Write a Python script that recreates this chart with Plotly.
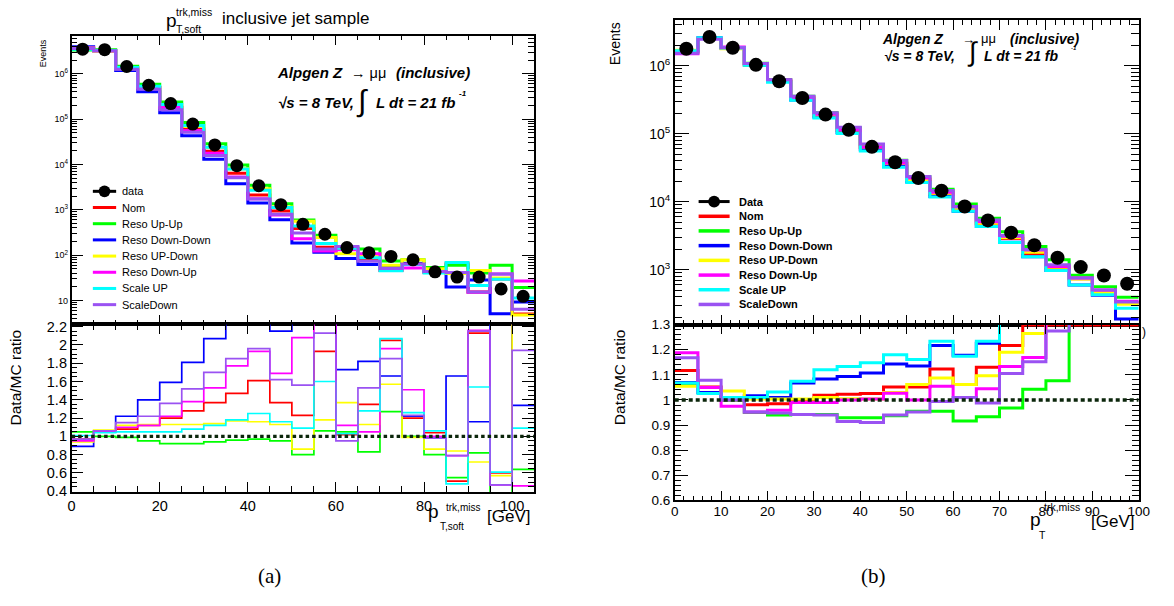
import plotly.graph_objects as go

W, H = 1174, 606

# ---------------- data: left panel (a) ----------------
L_EDGES = [0, 5, 10, 15, 20, 25, 30, 35, 40, 45, 50, 55, 60, 65, 70, 75, 80, 85, 90, 95, 100, 105]
L_CENTERS = [2.5, 7.5, 12.5, 17.5, 22.5, 27.5, 32.5, 37.5, 42.5, 47.5, 52.5, 57.5, 62.5, 67.5,
             72.5, 77.5, 82.5, 87.5, 92.5, 97.5, 102.5]
L_DATA = [3.5e6, 3.4e6, 1.45e6, 5.6e5, 2.2e5, 7.8e4, 2.7e4, 9.4e3, 3.4e3, 1.3e3, 480, 290, 147,
          113, 94, 79, 43, 33, 33, 18, 12.4]

L_R_NOM = [0.97, 1.05, 1.08, 1.12, 1.20, 1.28, 1.37, 1.47, 1.61, 1.37, 1.23, 1.93, 1.02, 1.35, 2.05,
           1.20, 1.04, 0.51, 2.13, 0.60, 2.45]
L_R_UPUP = [1.05, 1.00, 0.99, 0.95, 0.92, 0.92, 0.94, 0.96, 0.97, 0.95, 0.80, 1.06, 1.05, 0.83, 1.27,
            1.00, 0.80, 0.55, 0.82, 0.30, 0.64]
L_R_DNDN = [0.89, 1.06, 1.22, 1.40, 1.59, 1.81, 2.07, 2.50, 2.40, 2.15, 2.60, 2.50, 1.73, 1.82, 1.66,
            1.22, 0.98, 1.66, 1.16, 3.50, 1.34]
L_R_UPDN = [0.94, 1.07, 1.12, 1.13, 1.13, 1.13, 1.14, 1.17, 1.16, 1.13, 0.86, 1.18, 1.37, 1.13, 1.57,
            0.99, 0.86, 0.84, 0.72, 0.57, 2.60]
L_R_DNUP = [0.95, 1.05, 1.10, 1.12, 1.22, 1.38, 1.53, 1.77, 1.93, 1.69, 2.08, 2.35, 1.12, 1.05, 1.96,
            1.51, 1.00, 0.79, 2.16, 0.47, 0.46]
L_R_SCUP = [1.01, 1.04, 1.05, 1.05, 1.05, 1.08, 1.12, 1.18, 1.25, 1.16, 1.09, 1.60, 1.03, 1.28, 2.07,
            1.26, 1.06, 0.48, 1.54, 0.61, 1.09]
L_R_SCDN = [0.97, 1.06, 1.15, 1.22, 1.36, 1.52, 1.70, 1.85, 1.96, 1.62, 1.56, 2.13, 0.95, 1.53, 1.85,
            1.23, 0.98, 0.79, 2.15, 0.47, 1.94]

# ---------------- data: right panel (b) ----------------
R_EDGES = [0, 5, 10, 15, 20, 25, 30, 35, 40, 45, 50, 55, 60, 65, 70, 75, 80, 85, 90, 95, 100]
R_CENTERS = [2.5, 7.5, 12.5, 17.5, 22.5, 27.5, 32.5, 37.5, 42.5, 47.5, 52.5, 57.5, 62.5, 67.5,
             72.5, 77.5, 82.5, 87.5, 92.5, 97.5]
R_DATA = [1.78e6, 2.65e6, 1.84e6, 1.03e6, 5.9e5, 3.35e5, 1.91e5, 1.14e5, 6.4e4, 3.8e4, 2.23e4,
          1.45e4, 8.5e3, 5.3e3, 3.5e3, 2.28e3, 1.5e3, 1.09e3, 820, 620]

R_R_NOM = [1.117, 1.052, 1.0, 0.981, 0.985, 1.0, 1.019, 1.023, 1.026, 1.052, 1.052, 1.123, 1.062,
           1.13, 1.217, 1.32, 1.40, 1.48, 1.80, 1.90]
R_R_UPUP = [1.06, 1.05, 1.0, 0.95, 0.94, 0.942, 0.942, 0.929, 0.929, 0.937, 0.955, 0.955, 0.916,
            0.933, 0.968, 1.043, 1.077, 1.32, 1.46, 1.58]
R_R_DNDN = [1.07, 1.03, 1.01, 1.017, 1.01, 1.068, 1.084, 1.094, 1.107, 1.143, 1.135, 1.217, 1.178,
            1.226, 1.38, 1.47, 1.54, 1.83, 1.95, 3.3]
R_R_UPDN = [1.055, 1.05, 1.036, 1.004, 1.004, 1.004, 1.01, 1.005, 1.004, 1.03, 1.062, 1.088, 1.062,
            1.097, 1.19, 1.265, 1.38, 1.5, 1.80, 2.0]
R_R_DNUP = [1.188, 1.05, 0.975, 0.952, 0.959, 0.99, 0.99, 1.0, 1.004, 1.027, 1.0, 1.055, 1.01, 1.045,
            1.133, 1.169, 1.35, 1.45, 1.64, 1.81]
R_R_SCUP = [1.068, 1.026, 1.01, 1.01, 1.032, 1.075, 1.12, 1.133, 1.148, 1.18, 1.161, 1.234, 1.174,
            1.234, 1.40, 1.47, 1.54, 1.83, 1.92, 2.3]
R_R_SCDN = [1.168, 1.079, 1.0, 0.952, 0.948, 0.942, 0.94, 0.914, 0.91, 0.94, 0.952, 0.994, 1.01,
            0.988, 1.105, 1.152, 1.275, 1.45, 1.64, 1.85]

SERIES = ["Nom", "Reso Up-Up", "Reso Down-Down", "Reso UP-Down", "Reso Down-Up", "Scale UP", "ScaleDown"]
COLORS = ["#ff0000", "#00ff00", "#0000ff", "#ffff00", "#ff00ff", "#00ffff", "#9a52f2"]
L_RATIOS = [L_R_NOM, L_R_UPUP, L_R_DNDN, L_R_UPDN, L_R_DNUP, L_R_SCUP, L_R_SCDN]
R_RATIOS = [R_R_NOM, R_R_UPUP, R_R_DNDN, R_R_UPDN, R_R_DNUP, R_R_SCUP, R_R_SCDN]

L_YT_VALS = [10, 100, 1e3, 1e4, 1e5, 1e6]
L_YT_TEXT = ["10", "10<sup>2</sup>", "10<sup>3</sup>", "10<sup>4</sup>", "10<sup>5</sup>", "10<sup>6</sup>"]
R_YT_VALS = [1e3, 1e4, 1e5, 1e6]
R_YT_TEXT = ["10<sup>3</sup>", "10<sup>4</sup>", "10<sup>5</sup>", "10<sup>6</sup>"]
L_RT_VALS = [0.4, 0.6, 0.8, 1.0, 1.2, 1.4, 1.6, 1.8, 2.0, 2.2]
L_RT_TEXT = ["0.4", "0.6", "0.8", "1", "1.2", "1.4", "1.6", "1.8", "2", "2.2"]
R_RT_VALS = [0.6, 0.7, 0.8, 0.9, 1.0, 1.1, 1.2, 1.3]
R_RT_TEXT = ["0.6", "0.7", "0.8", "0.9", "1", "1.1", "1.2", "1.3"]

FONT = "Liberation Sans, Arial, sans-serif"


def px(x):
    return x / W


def py(y):
    return 1 - y / H


def steps(edges, vals):
    return list(edges), list(vals) + [vals[-1]]


def log_minor(lo_exp, hi_exp):
    out = []
    for e in range(lo_exp, hi_exp + 1):
        for m in range(2, 10):
            out.append(m * 10 ** e)
    return out


fig = go.Figure()

# ---------- histograms ----------
for name, color, lr, rr in zip(SERIES, COLORS, L_RATIOS, R_RATIOS):
    l_mc = [d / r for d, r in zip(L_DATA, lr)]
    r_mc = [d / r for d, r in zip(R_DATA, rr)]
    x, y = steps(L_EDGES, l_mc)
    fig.add_trace(go.Scatter(x=x, y=y, mode="lines", line=dict(color=color, width=3, shape="hv"),
                             xaxis="x", yaxis="y", showlegend=False, name=name))
    x, y = steps(L_EDGES, lr)
    fig.add_trace(go.Scatter(x=x, y=y, mode="lines", line=dict(color=color, width=1.7, shape="hv"),
                             xaxis="x2", yaxis="y2", showlegend=False, name=name))
    x, y = steps(R_EDGES, r_mc)
    fig.add_trace(go.Scatter(x=x, y=y, mode="lines", line=dict(color=color, width=3, shape="hv"),
                             xaxis="x3", yaxis="y3", showlegend=False, name=name))
    # ROOT draws the first (frame-defining) histogram's overflow on the frame edge
    disp = [min(v, 1.2985) for v in rr] if name == "Nom" else rr
    x, y = steps(R_EDGES, disp)
    fig.add_trace(go.Scatter(x=x, y=y, mode="lines", line=dict(color=color, width=3, shape="hv"),
                             xaxis="x4", yaxis="y4", showlegend=False, name=name))

fig.add_trace(go.Scatter(x=L_CENTERS, y=L_DATA, mode="markers", marker=dict(color="black", size=13),
                         xaxis="x", yaxis="y", showlegend=False, name="data"))
fig.add_trace(go.Scatter(x=R_CENTERS, y=R_DATA, mode="markers", marker=dict(color="black", size=14),
                         xaxis="x3", yaxis="y3", showlegend=False, name="Data"))

# unity lines
fig.add_shape(type="line", xref="x2", yref="y2", x0=L_EDGES[0], x1=L_EDGES[-1], y0=1, y1=1,
              line=dict(color="#0b260b", width=3.2, dash="3.5px,3px"))
fig.add_shape(type="line", xref="x4", yref="y4", x0=R_EDGES[0], x1=R_EDGES[-1], y0=1, y1=1,
              line=dict(color="#0b260b", width=3.5, dash="4px,3px"))

# ---------- axes ----------
L_X = [68.5, 537]
L_TOP = [29.3, 325.5]
L_BOT = [325.5, 497.5]
R_X = [679.4, 1149.4]
R_TOP = [13.3, 325.7]
R_BOT = [325.7, 506]

common = dict(showline=True, linecolor="black", linewidth=1.5, mirror="ticks", ticks="inside",
              tickcolor="black", tickwidth=1.2, showgrid=False, zeroline=False,
              tickfont=dict(family=FONT, color="black"))

fig.update_layout(
    xaxis=dict(domain=[px(L_X[0]), px(L_X[1])], range=[0, 105], anchor="y", dtick=20, tick0=0,
               ticklen=10, showticklabels=False,
               minor=dict(dtick=5, tick0=0, ticks="inside", ticklen=5, tickcolor="black"), **common),
    yaxis=dict(domain=[py(L_TOP[1]), py(L_TOP[0])], type="log", range=[0.473, 6.843], anchor="x",
               tickmode="array", tickvals=L_YT_VALS, ticktext=L_YT_TEXT, ticklen=12,
               minor=dict(tickmode="array", tickvals=log_minor(0, 6), ticks="inside", ticklen=6,
                          tickcolor="black"), **common),
    xaxis2=dict(domain=[px(L_X[0]), px(L_X[1])], range=[0, 105], anchor="y2", tickmode="array",
                tickvals=[0, 20, 40, 60, 80, 100], ticklen=10,
                minor=dict(dtick=5, tick0=0, ticks="inside", ticklen=6, tickcolor="black"), **common),
    yaxis2=dict(domain=[py(L_BOT[1]), py(L_BOT[0])], range=[0.39, 2.224], anchor="x2",
                tickmode="array", tickvals=L_RT_VALS, ticktext=L_RT_TEXT, ticklen=12,
                minor=dict(dtick=0.05, tick0=0, ticks="inside", ticklen=6, tickcolor="black"), **common),
    xaxis3=dict(domain=[px(R_X[0]), px(R_X[1])], range=[0, 100], anchor="y3", dtick=10, tick0=0,
                ticklen=10, showticklabels=False,
                minor=dict(dtick=2, tick0=0, ticks="inside", ticklen=5, tickcolor="black"), **common),
    yaxis3=dict(domain=[py(R_TOP[1]), py(R_TOP[0])], type="log", range=[2.191, 6.673], anchor="x3",
                tickmode="array", tickvals=R_YT_VALS, ticktext=R_YT_TEXT, ticklen=15,
                minor=dict(tickmode="array", tickvals=log_minor(2, 6), ticks="inside", ticklen=8,
                           tickcolor="black"), **common),
    xaxis4=dict(domain=[px(R_X[0]), px(R_X[1])], range=[0, 100], anchor="y4", tickmode="array",
                tickvals=[0, 10, 20, 30, 40, 50, 60, 70, 80, 90, 100], ticklen=10,
                minor=dict(dtick=2, tick0=0, ticks="inside", ticklen=5, tickcolor="black"), **common),
    yaxis4=dict(domain=[py(R_BOT[1]), py(R_BOT[0])], range=[0.6, 1.3], anchor="x4",
                tickmode="array", tickvals=R_RT_VALS, ticktext=R_RT_TEXT, ticklen=14,
                minor=dict(dtick=0.02, tick0=0, ticks="inside", ticklen=7, tickcolor="black"), **common),
)
fig.update_layout(yaxis=dict(tickfont=dict(size=9)), xaxis2=dict(tickfont=dict(size=14.5)),
                  yaxis2=dict(tickfont=dict(size=14.5)), yaxis3=dict(tickfont=dict(size=14)),
                  xaxis4=dict(tickfont=dict(size=13.5), ticklabelstandoff=-2),
                  yaxis4=dict(tickfont=dict(size=13.5)))


def text(x, y, s, size, anchor="left", angle=0, family=FONT, color="black"):
    fig.add_annotation(x=px(x), y=py(y), xref="paper", yref="paper", text=s, showarrow=False,
                       xanchor=anchor, yanchor="middle", textangle=angle,
                       font=dict(family=family, size=size, color=color))


# ---------- left panel texts ----------
text(162, 14, "p", 19)
text(172.5, 5.5, "trk,miss", 10.5)
text(172.5, 23, "T,soft", 10.5)
text(219, 11.5, "inclusive jet sample", 17)
text(39.5, 47.5, "Events", 9, anchor="center", angle=-90)
text(12, 380, "Data/MC ratio", 15.5, anchor="center", angle=-90)
text(427, 517.5, "p", 19)
text(446, 513.5, "trk,miss", 10)
text(439.5, 533, "T,soft", 10)
text(487, 522.5, "[GeV]", 17)

text(275, 67.5, "<b><i>Alpgen Z</i></b>", 15)
text(349, 67.5, "→ μμ", 14.5)
text(395, 67.5, "<b><i>(inclusive)</i></b>", 15)
text(276, 98, "<b><i>√s = 8 TeV,</i></b>", 15)
text(355, 96, "∫", 30)
text(375, 98, "<b><i>L dt = 21 fb</i></b>", 15)
text(459, 89, "<b><i>-1</i></b>", 8)

# left legend
L_LEG_Y = [189, 205.6, 222.2, 238.8, 255.4, 272, 288.6, 305.2]
fig.add_shape(type="line", xref="paper", yref="paper", x0=px(90), x1=px(113.6), y0=py(L_LEG_Y[0]),
              y1=py(L_LEG_Y[0]), line=dict(color="black", width=3))
fig.add_shape(type="circle", xref="paper", yref="paper", x0=px(95.8), x1=px(107.8),
              y0=py(L_LEG_Y[0] + 6), y1=py(L_LEG_Y[0] - 6), fillcolor="black", line=dict(width=0))
text(118, L_LEG_Y[0], "data", 11)
for yy, name, color in zip(L_LEG_Y[1:], SERIES, COLORS):
    fig.add_shape(type="line", xref="paper", yref="paper", x0=px(90), x1=px(113.6), y0=py(yy), y1=py(yy),
                  line=dict(color=color, width=3))
    text(118, yy, name, 11)

# ---------- right panel texts ----------
text(619, 38, "Events", 14, anchor="center", angle=-90)
text(623.5, 380, "Data/MC ratio", 15.5, anchor="center", angle=-90)
text(1037, 526, "p", 19)
text(1051, 513, "trk,miss", 10.5)
text(1046, 541, "T", 10.5)
text(1099, 527.5, "[GeV]", 17)
text(1151, 333, ")", 12)

text(887, 33, "<b><i>Alpgen Z</i></b>", 14)
text(968, 33, "→", 13)
text(973, 46, "∫", 27)
text(988, 32, "μμ", 13)
text(1017, 33, "<b><i>(inclusive)</i></b>", 14)
text(889, 50, "<b><i>√s = 8 TeV,</i></b>", 14)
text(991, 50, "<b><i>L dt = 21 fb</i></b>", 14)
text(1079, 42, "<b><i>-1</i></b>", 6)

R_LEG_Y = [199.5, 214.6, 229.6, 244.7, 259.8, 274.9, 289.9, 305]
fig.add_shape(type="line", xref="paper", yref="paper", x0=px(703.6), x1=px(735), y0=py(R_LEG_Y[0]),
              y1=py(R_LEG_Y[0]), line=dict(color="black", width=3))
fig.add_shape(type="circle", xref="paper", yref="paper", x0=px(713.3), x1=px(725.3),
              y0=py(R_LEG_Y[0] + 6), y1=py(R_LEG_Y[0] - 6), fillcolor="black", line=dict(width=0))
text(742.5, R_LEG_Y[0], "<b>Data</b>", 11)
for yy, name, color in zip(R_LEG_Y[1:], SERIES, COLORS):
    fig.add_shape(type="line", xref="paper", yref="paper", x0=px(703.6), x1=px(735), y0=py(yy), y1=py(yy),
                  line=dict(color=color, width=3.5))
    text(742.5, yy, "<b>" + name + "</b>", 11)

# captions
text(269, 583, "(a)", 21, anchor="center", family="Liberation Serif, DejaVu Serif, serif")
text(880.5, 583, "(b)", 21, anchor="center", family="Liberation Serif, DejaVu Serif, serif")

fig.update_layout(width=W, height=H, margin=dict(l=0, r=0, t=0, b=0), paper_bgcolor="white",
                  plot_bgcolor="white", showlegend=False)

fig.write_html("out.html", config={"displayModeBar": False},
               post_script="document.body.style.margin='0';")
